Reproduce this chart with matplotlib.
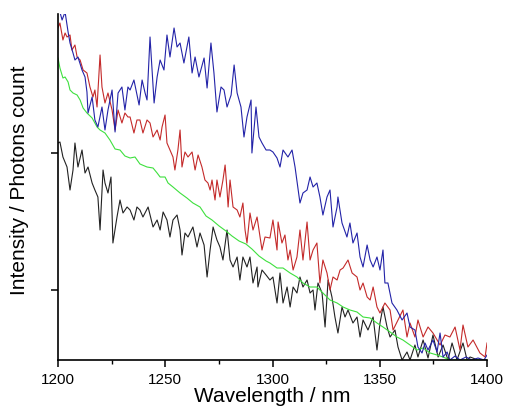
import numpy as np
import matplotlib
matplotlib.use("Agg")
import matplotlib.pyplot as plt
from matplotlib.ticker import MultipleLocator, FixedLocator

plt.rcParams['font.family'] = ['Liberation Sans', 'DejaVu Sans']

# --- Spectra (wavelength in nm, intensity in counts) ---
wl_blue = [1200.0, 1200.9, 1201.9, 1203.3, 1204.7, 1205.6, 1207.0, 1207.9, 1209.3, 1211.2,
           1212.6, 1213.5, 1214.0, 1215.9, 1217.2, 1218.6, 1220.5, 1221.9, 1223.3, 1225.2,
           1226.6, 1228.0, 1229.8, 1231.2, 1232.6, 1233.6, 1235.4, 1237.8, 1239.2, 1240.6,
           1241.5, 1242.9, 1244.8, 1246.2, 1247.6, 1249.4, 1250.8, 1252.2, 1254.1, 1255.5,
           1256.9, 1258.7, 1261.0, 1262.5, 1263.9, 1265.7, 1268.1, 1269.5, 1271.3, 1272.7,
           1274.1, 1276.0, 1277.4, 1278.8, 1280.7, 1282.1, 1283.5, 1285.3, 1286.7, 1288.1,
           1290.0, 1290.4, 1292.3, 1293.7, 1295.1, 1297.0, 1298.8, 1300.2, 1302.1, 1303.5,
           1304.9, 1307.2, 1309.1, 1310.5, 1312.8, 1314.2, 1316.1, 1317.5, 1318.9, 1320.7,
           1322.1, 1323.5, 1325.4, 1326.8, 1328.2, 1330.1, 1330.5, 1332.4, 1334.7, 1336.1,
           1337.5, 1339.4, 1340.8, 1342.2, 1344.1, 1345.5, 1346.9, 1348.7, 1350.1, 1351.5,
           1352.4, 1353.8, 1355.7, 1358.0, 1360.4, 1362.7, 1364.1, 1366.4, 1367.8, 1369.7,
           1371.1, 1372.5, 1374.8, 1376.7, 1378.1, 1379.5, 1381.4, 1382.7, 1385.1, 1387.4,
           1390.2, 1393.0, 1395.8, 1398.6, 1400.0]
int_blue = [3550, 3480, 3400, 3480, 3280, 3170, 3070, 3000, 3030, 2900,
            2830, 2680, 2470, 2630, 2400, 2330, 2530, 2300, 2500, 2700,
            2280, 2670, 2730, 2500, 2730, 2700, 2800, 2550, 2800, 2670,
            2600, 3230, 2570, 2830, 3000, 2900, 3250, 3030, 3320, 3130,
            3170, 2970, 3230, 2870, 3030, 2830, 3020, 2720, 3170, 2870,
            2480, 2730, 2700, 2530, 2650, 2950, 2670, 2530, 2230, 2430,
            2600, 2070, 2530, 2230, 2170, 2100, 2100, 2080, 2020, 1930,
            2100, 2030, 2100, 1930, 1570, 1670, 1700, 1830, 1730, 1770,
            1630, 1450, 1630, 1700, 1330, 1530, 1630, 1370, 1230, 1370,
            1170, 1270, 1030, 930, 1150, 1000, 930, 1030, 900, 1100,
            770, 770, 570, 500, 400, 470, 330, 300, 130, 70,
            170, 100, 200, 80, 270, 30, 80, 0, 40, 0,
            30, 0, 20, 0, 50]

wl_red = [1200.0, 1200.9, 1202.3, 1203.3, 1204.2, 1205.6, 1206.5, 1207.9, 1208.9, 1210.3,
          1211.7, 1213.5, 1214.9, 1216.3, 1217.2, 1218.2, 1219.6, 1220.5, 1221.9, 1223.3,
          1225.2, 1226.6, 1228.0, 1229.8, 1231.2, 1232.6, 1233.6, 1235.4, 1236.8, 1238.2,
          1239.6, 1241.5, 1242.9, 1244.3, 1246.2, 1247.6, 1248.5, 1249.9, 1250.8, 1252.2,
          1253.6, 1254.5, 1255.9, 1256.9, 1257.8, 1259.2, 1260.6, 1262.5, 1263.9, 1265.3,
          1267.1, 1268.5, 1269.9, 1270.9, 1271.8, 1273.2, 1274.1, 1275.5, 1276.9, 1277.9,
          1278.8, 1279.3, 1280.2, 1281.6, 1283.5, 1284.8, 1286.2, 1287.2, 1288.1, 1289.5,
          1290.9, 1292.8, 1294.2, 1295.1, 1296.5, 1298.8, 1300.2, 1302.1, 1302.6, 1304.4,
          1305.8, 1307.2, 1308.2, 1309.6, 1311.4, 1312.8, 1314.2, 1316.1, 1317.5, 1318.9,
          1320.7, 1322.1, 1323.5, 1325.4, 1326.8, 1328.2, 1330.1, 1331.5, 1332.9, 1335.2,
          1337.1, 1339.4, 1340.8, 1342.2, 1344.1, 1345.5, 1346.9, 1348.7, 1350.1, 1352.4,
          1354.8, 1356.2, 1358.5, 1360.8, 1362.7, 1364.1, 1366.4, 1367.8, 1370.2, 1372.5,
          1374.8, 1378.1, 1380.4, 1382.7, 1385.1, 1387.4, 1388.8, 1391.1, 1393.5, 1396.7,
          1399.1, 1400.0]
int_red = [3320, 3370, 3200, 3270, 3230, 3250, 3100, 3150, 3030, 3000,
           2900, 2870, 2730, 2630, 2700, 2530, 3050, 2730, 2570, 2670,
           2500, 2300, 2500, 2370, 2470, 2430, 2430, 2270, 2400, 2400,
           2270, 2400, 2370, 2230, 2300, 2200, 2330, 2450, 2170, 2100,
           2030, 1900, 2100, 2300, 1930, 2080, 2030, 2080, 1900, 2050,
           1930, 1800, 1770, 1700, 1800, 1600, 1800, 1630, 1800, 1950,
           1700, 1530, 1800, 1530, 1500, 1430, 1570, 1300, 1170, 1470,
           1300, 1430, 1230, 1100, 1230, 1220, 1400, 1100, 1380, 1170,
           1250, 1000, 1100, 900, 1030, 1300, 1000, 1380, 1000, 1100,
           1170, 770, 1000, 870, 700, 830, 800, 900, 920, 1000,
           870, 830, 700, 770, 630, 600, 730, 530, 470, 570,
           500, 300, 400, 500, 230, 370, 230, 400, 230, 330,
           270, 150, 250, 230, 330, 100, 350, 130, 200, 70,
           30, 170]

wl_green = [1200.0, 1200.9, 1202.3, 1203.3, 1204.7, 1205.6, 1207.0, 1208.9, 1210.3, 1211.7,
            1213.5, 1215.9, 1218.2, 1219.6, 1221.9, 1224.2, 1226.6, 1228.9, 1231.2, 1233.6,
            1235.9, 1238.2, 1241.5, 1244.3, 1246.2, 1247.6, 1249.9, 1251.3, 1253.6, 1256.9,
            1260.1, 1262.9, 1266.2, 1269.0, 1271.8, 1275.1, 1278.3, 1281.1, 1284.4, 1287.6,
            1290.4, 1293.7, 1297.0, 1298.8, 1302.1, 1304.9, 1308.2, 1311.4, 1314.2, 1317.5,
            1320.7, 1323.5, 1326.8, 1330.1, 1332.9, 1336.1, 1339.4, 1342.2, 1345.5, 1348.7,
            1351.5, 1354.8, 1358.0, 1360.8, 1364.1, 1367.4, 1370.2, 1373.5, 1376.7, 1379.5,
            1382.7, 1387.4, 1392.1, 1396.7, 1400.0]
int_green = [3020, 2920, 2820, 2830, 2780, 2700, 2670, 2650, 2600, 2520,
             2470, 2420, 2330, 2300, 2270, 2200, 2110, 2100, 2040, 2020,
             2030, 1960, 1930, 1920, 1870, 1830, 1830, 1770, 1730, 1670,
             1620, 1570, 1530, 1440, 1400, 1340, 1290, 1240, 1190, 1160,
             1110, 1040, 990, 970, 920, 920, 870, 830, 770, 730,
             730, 670, 600, 570, 530, 500, 480, 430, 420, 370,
             330, 280, 230, 200, 150, 100, 120, 70, 50, 30,
             0, 0, 0, 0, 0]

wl_black = [1200.0, 1200.9, 1202.3, 1204.2, 1205.6, 1207.0, 1207.9, 1209.3, 1211.2, 1212.6,
            1214.0, 1215.9, 1217.2, 1218.6, 1219.6, 1221.0, 1221.9, 1223.3, 1224.7, 1225.6,
            1227.5, 1228.9, 1230.3, 1232.2, 1233.6, 1235.4, 1236.8, 1238.2, 1239.6, 1242.0,
            1244.3, 1246.2, 1247.6, 1249.0, 1250.8, 1252.2, 1253.6, 1255.5, 1256.9, 1257.8,
            1259.2, 1260.6, 1262.9, 1264.8, 1266.2, 1268.1, 1269.5, 1270.9, 1272.3, 1274.1,
            1275.5, 1276.9, 1278.8, 1280.2, 1281.6, 1283.5, 1284.8, 1286.2, 1288.1, 1289.5,
            1290.9, 1292.8, 1293.2, 1295.1, 1297.0, 1298.8, 1300.2, 1302.1, 1303.5, 1304.9,
            1306.8, 1308.2, 1309.6, 1311.4, 1312.8, 1314.2, 1316.1, 1317.5, 1318.9, 1319.8,
            1321.2, 1323.1, 1324.5, 1325.9, 1327.7, 1329.1, 1330.5, 1332.4, 1333.8, 1335.2,
            1337.5, 1339.4, 1340.8, 1342.2, 1344.5, 1346.9, 1348.7, 1350.1, 1351.5, 1353.4,
            1354.8, 1357.1, 1358.5, 1360.4, 1362.7, 1364.1, 1366.4, 1367.8, 1370.2, 1372.5,
            1374.8, 1377.2, 1379.5, 1381.8, 1383.7, 1386.0, 1388.8, 1390.7, 1392.1, 1395.8,
            1400.0]
int_black = [2170, 2180, 2030, 1930, 1700, 1900, 2170, 1930, 2100, 1870,
             1930, 1770, 1700, 1630, 1300, 1900, 1770, 1670, 1830, 1170,
             1430, 1600, 1470, 1530, 1500, 1400, 1530, 1500, 1430, 1530,
             1330, 1400, 1300, 1480, 1400, 1230, 1400, 1450, 1300, 1050,
             1270, 1230, 1330, 1130, 1270, 1150, 830, 1100, 1330, 1200,
             1130, 1000, 1300, 1000, 930, 1030, 800, 1030, 930, 1030,
             770, 930, 730, 900, 850, 800, 830, 570, 870, 570,
             730, 530, 730, 670, 830, 730, 800, 670, 700, 500,
             770, 670, 330, 800, 630, 430, 270, 530, 430, 500,
             370, 430, 230, 400, 300, 430, 100, 370, 530, 330,
             230, 300, 130, 0, 80, 0, 150, 30, 200, 20,
             250, 30, 150, 0, 170, 0, 170, 0, 30, 0,
             0]

y_ticks = [700, 2070]

# --- Plot ---
fig = plt.figure(figsize=(5.07, 4.19), dpi=100)
ax = fig.add_axes([0.1144, 0.1408, 0.8462, 0.8258])

lw = 0.8
ax.plot(wl_black, int_black, color='#222222', lw=lw)
ax.plot(wl_green, int_green, color='#3ee03e', lw=lw)
ax.plot(wl_red, int_red, color='#c42a2a', lw=lw)
ax.plot(wl_blue, int_blue, color='#2323a8', lw=lw)

ax.set_xlim(1200, 1400)
ax.set_ylim(0, 3460)

ax.spines['top'].set_visible(False)
ax.spines['right'].set_visible(False)
for s in ('left', 'bottom'):
    ax.spines[s].set_linewidth(1.2)

ax.xaxis.set_major_locator(MultipleLocator(50))
ax.xaxis.set_minor_locator(MultipleLocator(25))
ax.yaxis.set_major_locator(FixedLocator(y_ticks))
ax.set_yticklabels([])
ax.tick_params(axis='x', which='major', direction='out', length=5, width=1.1,
               labelsize=11, pad=4)
ax.tick_params(axis='x', which='minor', direction='out', length=3, width=1.0)
ax.tick_params(axis='y', which='major', direction='out', length=5, width=1.1)

ax.set_xlabel("Wavelength / nm", fontsize=15)
ax.set_ylabel("Intensity / Photons count", fontsize=15)
ax.xaxis.set_label_coords(0.5, -0.078)
ax.yaxis.set_label_coords(-0.068, 0.52)

fig.savefig("out.png", dpi=100)
